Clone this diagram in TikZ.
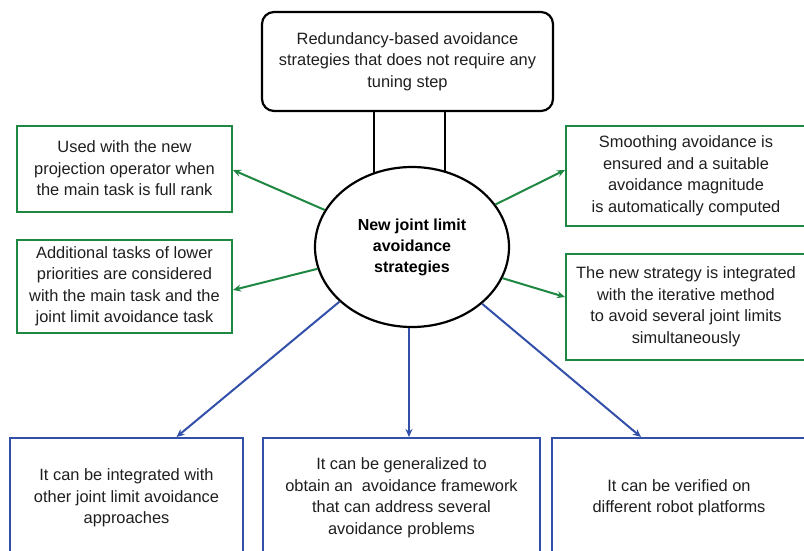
\documentclass[tikz,border=0pt]{standalone}
\usepackage{fontspec}
\setmainfont{Liberation Sans}
\usetikzlibrary{arrows.meta, positioning, shapes.geometric}
\definecolor{boxgreen}{RGB}{30,135,65}
\definecolor{boxblue}{RGB}{50,80,170}
\definecolor{txtgray}{RGB}{30,30,30}

\begin{document}
\begin{tikzpicture}[x=1pt, y=-1pt,
  txt/.style={align=center, text=txtgray, inner sep=0pt,
    font=\fontsize{16.4}{21.5}\selectfont},
  gbox/.style={txt, draw=boxgreen, line width=2pt},
  bbox/.style={txt, draw=boxblue, line width=2pt},
  topbox/.style={txt, draw=black, line width=2.2pt, rounded corners=12pt},
  hubnode/.style={ellipse, draw=black, line width=2.2pt, fill=white,
    minimum width=194pt, minimum height=160pt, inner sep=0pt,
    align=center, text=black, font=\bfseries\fontsize{16}{21}\selectfont},
  garr/.style={->, >={Stealth[length=8pt, width=7pt]}, draw=boxgreen, line width=2pt},
  barr/.style={->, >={Stealth[length=8pt, width=7pt]}, draw=boxblue, line width=2pt}
]
  \useasboundingbox (0,0) rectangle (804,550);
  \clip (0,0) rectangle (804,550);

  \node[topbox, minimum width=291pt, minimum height=99pt] (top) at (407.5, 61.5)
    {Redundancy-based avoidance\\strategies that does not require any\\tuning step};

  % stems from the top box down to the ellipse
  \draw[line width=2.2pt] ([xshift=-33.5pt]top.south) -- ([xshift=-33.5pt]top.south |- 0,247);
  \draw[line width=2.2pt] ([xshift=37.5pt]top.south) -- ([xshift=37.5pt]top.south |- 0,247);

  \node[hubnode] (hub) at (412, 247) {New joint limit\\avoidance\\strategies};

  \node[gbox, minimum width=215pt, minimum height=86pt] (left1) at (124.5, 168.5)
    {Used with the new\\projection operator when\\the main task is full rank};
  \node[gbox, minimum width=215pt, minimum height=93pt] (left2) at (124.5, 286.5)
    {Additional tasks of lower\\priorities are considered\\with the main task and the\\joint limit avoidance task};
  \node[gbox, minimum width=240pt, minimum height=100pt] (right1) at (686, 176)
    {Smoothing avoidance is\\ensured and a suitable\\avoidance magnitude\\is automatically computed};
  \node[gbox, minimum width=240pt, minimum height=106pt] (right2) at (686, 307)
    {The new strategy is integrated\\with the iterative method\\to avoid several joint limits\\simultaneously};

  \node[bbox, minimum width=233pt, minimum height=120pt] (bot1) at (126.5, 498)
    {It can be integrated with\\other joint limit avoidance\\approaches};
  \node[bbox, minimum width=277pt, minimum height=120pt] (bot2) at (401.5, 498)
    {It can be generalized to\\obtain an \ avoidance framework\\that can address several\\avoidance problems};
  \node[bbox, minimum width=254pt, minimum height=120pt] (bot3) at (679, 498)
    {It can be verified on\\different robot platforms};

  \draw[garr] (hub.157) -- ([yshift=-1.5pt]left1.east);
  \draw[garr] (hub.193) -- ([yshift=-3.5pt]left2.east);
  \draw[garr] (hub.27)  -- ([yshift=6pt]right1.west);
  \draw[garr] (hub.341) -- ([yshift=10pt]right2.west);

  \draw[barr] (hub.217) -- ([xshift=50pt]bot1.north);
  \draw[barr] ([xshift=-3pt]hub.south) -- ([xshift=-3pt]hub.south |- bot2.north);
  \draw[barr] (hub.321) -- ([xshift=-38pt]bot3.north);
\end{tikzpicture}
\end{document}
